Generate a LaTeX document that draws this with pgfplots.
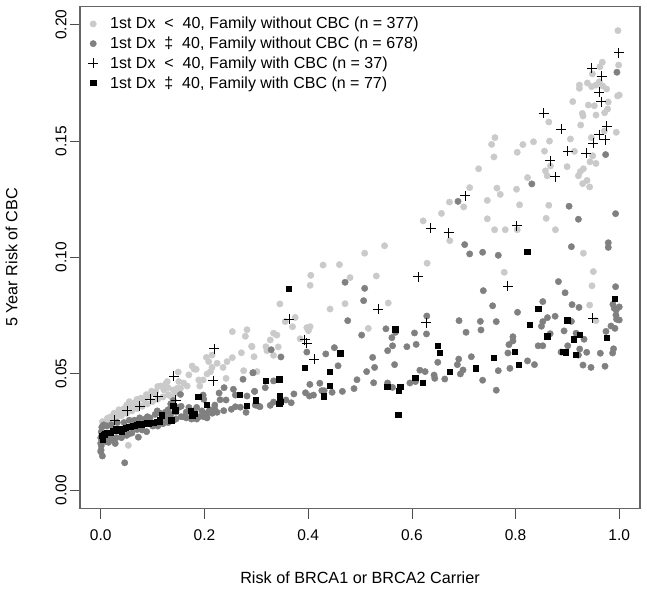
\documentclass[border=0pt]{standalone}
\usepackage{pgfplots}
\pgfplotsset{compat=1.18}
\usepackage{fontspec}
\setmainfont{Liberation Sans}
\definecolor{lightpt}{HTML}{CACACA}
\definecolor{midpt}{HTML}{808080}
\definecolor{frameC}{HTML}{666666}
\begin{document}
\begin{tikzpicture}[x=1pt,y=1pt]
\path[use as bounding box] (-80,-80.4) rectangle (567,508.6);
\begin{axis}[
  at={(0,0)},anchor=south west,
  width=560pt,height=502.4pt,scale only axis,
  xmin=-0.04,xmax=1.04,ymin=-0.008,ymax=0.208,
  axis line style={draw=frameC,line width=1.3pt},
  tick style={draw=black!70,line width=0.7pt},
  tick align=outside,
  major tick length=10pt,
  xtick={0,0.2,0.4,0.6,0.8,1},
  xticklabels={0.0,0.2,0.4,0.6,0.8,1.0},
  ytick={0,0.05,0.10,0.15,0.20},
  yticklabels={0.00,0.05,0.10,0.15,0.20},
  xtick pos=bottom,ytick pos=left,
  tick label style={font=\fontsize{15.5}{18}\selectfont},
  yticklabel style={rotate=90,anchor=south,yshift=0pt},
  xticklabel style={yshift=-8pt},
  xlabel={Risk of BRCA1 or BRCA2 Carrier},
  ylabel={5 Year Risk of CBC},
  label style={font=\fontsize{16.2}{18}\selectfont},
  xlabel style={at={(rel axis cs:0.5,0)},anchor=north,yshift=-60pt},
  ylabel style={at={(rel axis cs:0,0.5)},anchor=south,yshift=59pt},
  legend style={draw=none,fill=none,at={(0,1)},anchor=north west,xshift=6pt,yshift=-7pt,
    font=\fontsize{16}{19}\selectfont,row sep=2.6pt,inner sep=2pt},
  legend cell align=left,
  clip=true,
]
% light grey: 1st Dx < 40, family without CBC
\addplot[only marks,mark=*,mark size=3.2pt,color=lightpt] coordinates {
(.9974,.1975)(.9987,.1827)(.9673,.1839)(.9628,.182)(.9481,.1789)(.9231,.1741)(.9231,.1727)(.9385,.175)(.9468,.1734)(.9551,.1741)(.9615,.1755)(.9679,.1737)(.9756,.1724)
(.9103,.167)(.9404,.1655)(.9519,.1652)(.9788,.1668)(.9776,.1638)(.9718,.1622)(.9968,.1694)(1.0,.1698)(.9288,.1619)(.9301,.1608)(.9551,.1612)(.9256,.1569)(.9942,.1538)
(.9058,.1509)(.9462,.1515)(.9712,.1543)(.8654,.15)(.8346,.1497)(.8141,.1485)(.8032,.1452)(.8558,.1457)(.8641,.1582)(.7603,.1515)(.7538,.1486)(.7583,.1432)
(.9135,.1456)(.9487,.1437)(.9436,.1411)(.9551,.1404)(.8673,.1393)(.8994,.139)(.9308,.1381)(.925,.1369)(.9212,.1351)(.8577,.1372)(.8609,.1351)(.8231,.1343)
(.9378,.1331)(.9295,.1317)(.9429,.1303)(.7288,.1381)(.7115,.13)(.7641,.1298)(.7705,.1271)(.8019,.1293)(.7455,.1245)(.6725,.1238)(.7,.1217)(.6571,.1189)
(.8077,.1226)(.8641,.1224)(.7455,.1166)(.859,.1168)(.7596,.1119)(.7801,.1119)(.8032,.1119)(.8769,.1119)(.6731,.1072)(.9308,.1018)(.7782,.0936)(.95,.0939)(.9474,.0878)(.9429,.0795)(.9551,.0728)
(.6218,.1157)(.5474,.105)(.509,.1018)(.6295,.0975)(.4288,.0967)(.4603,.0969)(.4051,.0923)(.4038,.088)(.4808,.0913)(.5314,.092)
(.3455,.08)(.4423,.0778)(.4712,.0801)(.5545,.0804)(.375,.0742)(.3558,.0724)(.3699,.0702)(.3975,.0698)(.4038,.0702)(.4006,.0685)(.516,.0695)(.3846,.065)
(.3333,.0674)(.3397,.0666)(.3269,.0645)(.3186,.0616)(.3205,.0599)(.3423,.0615)(.3333,.0579)(.2956,.0573)(.2917,.0616)(.3013,.0509)
(.2538,.0681)(.2821,.0689)(.2788,.0661)(.291,.0618)(.2712,.059)(.2538,.0569)(.2436,.0552)(.2359,.0527)(.2244,.0545)(.2147,.058)(.2038,.057)(.2083,.0552)(.2147,.0527)(.2115,.0509)(.2051,.0499)(.2417,.048)(.2756,.0513)
(.1763,.0533)(.184,.0519)(.189,.0473)(.1975,.0473)(.1494,.0507)(.1282,.0466)(.1154,.0447)(.1218,.043)(.1058,.0423)(.0929,.0401)(.0833,.0387)(.0705,.0373)(.0577,.0358)(.0417,.0337)(.0256,.033)(.0128,.0308)(.0032,.0294)
(.1506,.0466)(.1474,.0437)(.1538,.0437)(.1667,.0447)(.1442,.0416)(.136,.0401)(.191,.0447)(.0532,.0192)
(.008,.0285)(.015,.031)(.02,.0315)(.03,.033)(.035,.0345)(.045,.035)(.05,.0365)(.055,.038)(.065,.0375)(.07,.039)(.078,.0395)(.088,.041)(.098,.0425)(.104,.0415)(.11,.0445)(.125,.0455)(.13,.044)
(.012,.0295)(.022,.03)(.03,.031)(.04,.032)(.05,.033)(.06,.034)(.07,.035)(.08,.036)(.09,.037)(.1,.038)(.11,.039)(.12,.04)(.13,.041)(.14,.043)(.16,.046)(.17,.0495)(.18,.052)
};
\addlegendentry{\hspace*{10pt}1st Dx\ \ <\ \ 40, Family without CBC (n = 377)}
% mid grey: 1st Dx >= 40, family without CBC
\addplot[only marks,mark=*,mark size=3.2pt,color=midpt] coordinates {
(.0032,.0146)(.0006,.0172)(.0462,.0117)(.0725,.0227)(.0885,.0251)(.08,.0258)(.0544,.0241)(.0225,.0215)(.0096,.0208)(0,.0201)(0,.0225)
(.109,.034)(.1538,.0411)(.2744,.0476)(.2936,.0504)(.2379,.044)(.2283,.0417)(.2558,.0433)(.2596,.0408)(.2967,.0424)(.2821,.0404)(.2302,.0388)(.2417,.0387)(.1975,.0408)(.1987,.039)
(.2192,.0351)(.2372,.0341)(.2244,.0334)(.2519,.0347)(.2596,.0358)(.2802,.0334)(.2692,.0356)(.3044,.0361)(.1987,.0315)(.2051,.033)
(.4712,.0893)(.509,.0867)(.507,.0814)(.4763,.0728)(.3288,.0603)(.3475,.0572)(.55,.0693)(.5032,.0666)(.5615,.0655)(.5686,.0678)(.6051,.0675)(.6288,.0748)(.6282,.0671)(.5904,.0616)(.6083,.0626)(.5628,.062)(.5533,.0599)(.5244,.057)(.5282,.0527)(.5128,.0509)(.5667,.0539)(.65,.0549)(.6154,.0515)(.6256,.0509)(.6429,.0494)(.6442,.048)(.6635,.0477)
(.4506,.0612)(.434,.0585)(.3975,.0593)(.4577,.0534)(.4942,.0474)(.5263,.0461)(.4885,.0436)(.5532,.046)(.5628,.0441)(.5962,.046)(.607,.0466)(.4033,.0454)(.4225,.0459)(.4263,.0427)(.4308,.0427)(.3949,.0418)(.4025,.0404)(.4103,.0408)(.4462,.042)(.466,.0424)(.3725,.0413)(.3673,.0375)(.3571,.0387)(.3333,.0378)(.3269,.0364)(.2967,.0424)(.3173,.044)(.3333,.0469)(.2936,.0504)(.3071,.0358)(.2981,.0365)
(.7019,.1055)(.7115,.1015)(.7365,.1022)(.7667,.1009)(.9077,.1046)(.9788,.1063)(.9788,.1043)(.8827,.0896)(.8955,.0848)(.9929,.0874)(.7378,.0857)(.7558,.0792)(.8038,.0764)(.8525,.081)(.909,.0797)(.9224,.0785)(.9878,.0798)(1.0,.0787)(.9942,.0774)(.9904,.0781)(.9936,.0752)(1.0,.0731)(.9948,.0734)
(.8763,.0747)(.8615,.0741)(.8525,.0724)(.85,.0704)(.9077,.0725)(.8936,.0684)(.8667,.0672)(.984,.0705)(.9917,.0695)(.9744,.0682)(.9167,.0674)(.9321,.0648)(.9006,.062)(.9237,.0606)(.9372,.0592)(.9635,.0588)(.989,.0607)(.9872,.0589)(.8878,.0593)(.9212,.058)(.9301,.0537)(.9455,.0527)(.9725,.0532)(.8231,.0555)(.8365,.0539)(.7891,.0523)(.7667,.0513)(.7365,.0472)(.7628,.0429)(.7853,.0589)(.7872,.0625)(.7949,.0641)(.7949,.0659)(.8436,.062)(.8525,.062)(.7321,.0725)(.7628,.0724)(.7333,.0688)(.7045,.0678)(.691,.0728)(.7147,.0573)(.6904,.0563)(.6878,.0539)(.6987,.0516)(.6936,.0499)
(.689,.1241)(.8314,.1316)(.9032,.122)(.9929,.1188)(.9212,.1164)(.9737,.1442)(.9955,.1796)
(0,.0165)(.001,.019)(.002,.0215)(.003,.0235)(.001,.025)(.002,.027)(.004,.0275)(.006,.028)(.01,.0225)(.012,.0275)(.015,.0205)(.018,.023)(.02,.028)(.028,.02)(.03,.0225)(.032,.029)(.04,.0225)(.045,.029)(.05,.0235)(.055,.03)(.06,.0245)(.065,.03)(.07,.026)(.075,.031)(.085,.0305)(.09,.0315)(.095,.031)(.1,.0275)(.105,.0325)(.11,.0275)(.115,.033)(.12,.0285)(.125,.0335)(.13,.029)(.135,.0325)(.14,.03)(.145,.0335)(.15,.0355)(.155,.036)(.16,.0315)(.165,.0335)(.17,.0355)(.175,.0305)(.18,.0335)(.185,.0355)(.19,.0315)(.195,.034)(.205,.031)(.21,.0345)(.215,.033)(.22,.0365)(.155,.0315)(.135,.037)(.14,.0385)(.13,.0345)(.125,.031)(.145,.0305)(.165,.031)(.185,.0305)
};
\addlegendentry{\hspace*{10pt}1st Dx\ \ ‡\ \ 40, Family without CBC (n = 678)}
% plus: 1st Dx < 40, family with CBC
\addplot[only marks,mark=+,mark size=5pt,color=black,mark options={line width=1pt}] coordinates {
(.0275,.030)(.051,.034)(.075,.036)(.095,.039)(.110,.040)(.141,.049)(.145,.0385)(.217,.047)(.219,.0607)
(.3635,.0735)(.393,.0646)(.3975,.063)(.412,.0563)(.535,.0777)(.628,.0718)(.612,.0916)(.6365,.1125)(.671,.1106)
(.7025,.1265)(.8025,.1136)(.785,.0877)(.9487,.0738)
(.854,.162)(.888,.155)(.9006,.1456)(.8667,.1416)(.877,.1347)(.9365,.1447)(.95,.149)(.961,.1528)(.973,.1506)(.976,.1564)(.9654,.167)(.9615,.171)(.966,.1778)(.947,.1813)(.9994,.1879)
};
\addlegendentry{\hspace*{10pt}1st Dx\ \ <\ \ 40, Family with CBC (n = 37)}
% squares: 1st Dx >= 40, family with CBC
\addplot[only marks,mark=square*,mark size=2.6pt,color=black] coordinates {
(.9917,.0824)(.8436,.0781)(.8994,.073)(.827,.0711)(.861,.0661)(.9237,.0669)(.9128,.0648)(.9763,.0656)(.8917,.0595)(.8974,.0592)(.916,.0583)(.798,.0595)(.8058,.0539)(.7577,.0569)(.723,.0524)(.673,.0509)(.654,.059)(.8225,.1025)
(.362,.0867)(.568,.0691)(.6494,.0619)(.462,.0588)(.394,.0527)(.4417,.051)(.4423,.045)(.4295,.0403)(.3187,.0471)(.3442,.0476)(.2994,.0386)(.3448,.0404)(.3462,.038)(.3442,.037)(.5525,.0443)(.5775,.0443)(.5744,.0427)(.5737,.0325)(.6064,.0483)(.6206,.046)
(.1879,.04)(.2051,.0367)(.2686,.041)(.2808,.0364)(.1398,.0364)(.1436,.0343)(.1173,.0322)(.1135,.0301)(.136,.03)(.1731,.0341)(.1813,.0327)(.1763,.0321)
(.0032,.0218)(.0051,.0239)(.0192,.0246)(.0288,.0262)(.0385,.0265)(.0398,.0249)(.0544,.0271)(.061,.0275)(.0737,.0284)(.0833,.0284)(.0929,.0287)(.1025,.0291)(.1129,.0295)
(.002,.0235)(.008,.024)(.012,.0245)(.024,.0255)(.033,.0255)(.044,.0262)(.048,.0268)(.058,.0272)(.066,.0278)(.07,.0282)(.078,.028)(.088,.0288)(.098,.029)(.108,.0292)
};
\addlegendentry{\hspace*{10pt}1st Dx\ \ ‡\ \ 40, Family with CBC (n = 77)}
\end{axis}
\end{tikzpicture}
\end{document}
